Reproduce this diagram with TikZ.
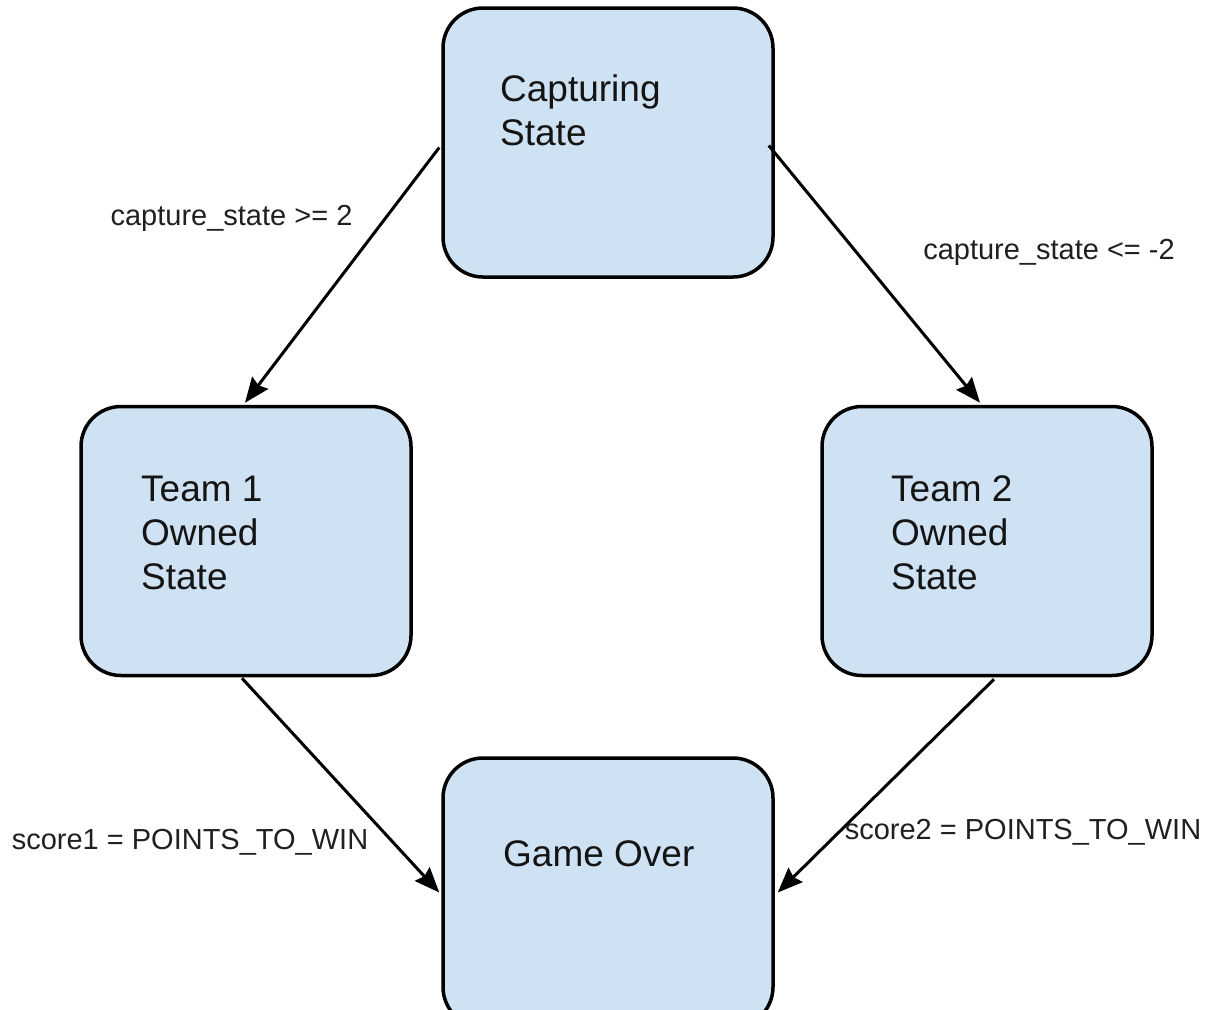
\documentclass[tikz,border=0pt]{standalone}
\usepackage{fontspec}
\setmainfont{Liberation Sans}
\usetikzlibrary{arrows.meta,calc}
\definecolor{statefill}{HTML}{CFE2F3}
\definecolor{statetext}{HTML}{141414}
\definecolor{guardtext}{HTML}{202020}
\tikzset{
  statebox/.style={draw=black, line width=3.5pt, fill=statefill,
    rounded corners=40pt, minimum width=330pt, minimum height=269pt,
    inner sep=0pt},
  % anchored on the baseline of the last line of text
  statelabel/.style={anchor=base west, align=left, inner sep=0pt,
    text=statetext, font=\fontsize{37}{44}\selectfont},
  guard/.style={anchor=base, inner sep=0pt, text=guardtext,
    font=\fontsize{29}{34}\selectfont},
  transition/.style={draw=black, line width=3pt,
    -{Stealth[length=25pt,width=20pt,inset=3pt]}}
}
\begin{document}
\begin{tikzpicture}[x=1pt,y=-1pt]
  \useasboundingbox (0,0) rectangle (1211,1010);
  \clip (0,0) rectangle (1211,1010);

  % states
  \node[statebox] (cap) at (608,142.5) {};
  \node[statebox] (t1)  at (246,541)   {};
  \node[statebox] (t2)  at (987,541)   {};
  \node[statebox] (go)  at (608,892.5) {};

  \node[statelabel] (capT) at (500,145) {Capturing\\State};
  \node[statelabel] (t1T)  at (141,589) {Team 1\\Owned\\State};
  \node[statelabel] (t2T)  at (891,589) {Team 2\\Owned\\State};
  \node[statelabel] (goT)  at (503,866) {Game Over};

  % transitions
  \draw[transition] ($(cap.west)+(-2,5)$) -- ($(t1.north)+(-1,-2)$);
  \draw[transition] ($(cap.east)+(-6,3)$) -- ($(t2.north)+(-7,-2)$);
  \draw[transition] ($(t1.south)+(-4,1)$) -- ($(go.west)+(-2,0)$);
  \draw[transition] ($(t2.south)+(7,2)$)  -- ($(go.east)+(3,0)$);

  % guard conditions
  \node[guard] (g1) at (231.5,225) {capture\_state >= 2};
  \node[guard] (g2) at (1049,259)  {capture\_state <= -2};
  \node[guard] (g3) at (190,849)   {score1 = POINTS\_TO\_WIN};
  \node[guard] (g4) at (1023,839)  {score2 = POINTS\_TO\_WIN};
\end{tikzpicture}
\end{document}
